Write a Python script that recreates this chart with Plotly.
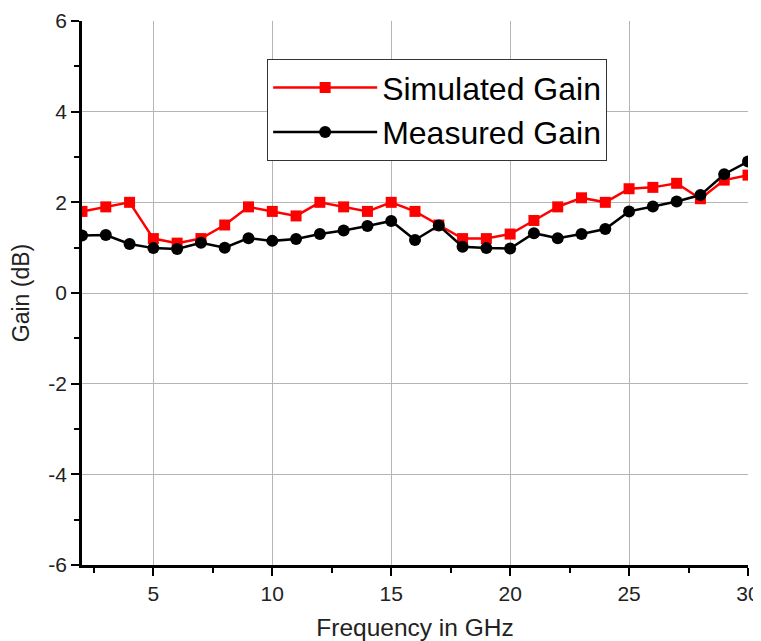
import plotly.graph_objects as go

freq = list(range(2, 31))
simulated = [1.8, 1.9, 2.0, 1.2, 1.1, 1.2, 1.5, 1.9, 1.8, 1.7, 2.0, 1.9, 1.8, 2.0, 1.8,
             1.5, 1.2, 1.2, 1.3, 1.6, 1.9, 2.1, 2.0, 2.3, 2.33, 2.42, 2.08, 2.49, 2.6]
measured = [1.27, 1.28, 1.08, 0.99, 0.97, 1.11, 1.0, 1.21, 1.15, 1.19, 1.3, 1.38, 1.48, 1.59, 1.17,
            1.49, 1.02, 0.99, 0.98, 1.32, 1.21, 1.3, 1.41, 1.8, 1.91, 2.02, 2.16, 2.62, 2.9]

x_ticks = [5, 10, 15, 20, 25, 30]
y_ticks = [-6, -4, -2, 0, 2, 4, 6]
y_tick_labels = ["-6", "-4", "-2", "0", "2", "4", "6"]

font_family = "Liberation Sans, Arial, sans-serif"

fig = go.Figure()
fig.add_trace(go.Scatter(
    x=freq, y=simulated, mode="lines+markers", name="Simulated Gain",
    line=dict(color="#ff0000", width=2.5),
    marker=dict(symbol="square", size=11, color="#ff0000"),
))
fig.add_trace(go.Scatter(
    x=freq, y=measured, mode="lines+markers", name="Measured Gain",
    line=dict(color="#000000", width=2.5),
    marker=dict(symbol="circle", size=12, color="#000000"),
))

fig.update_layout(
    width=753, height=633,
    margin=dict(l=74, r=13, t=13, b=76, autoexpand=False),
    paper_bgcolor="white", plot_bgcolor="white",
    font=dict(family=font_family, color="#111111"),
    showlegend=True,
    legend=dict(
        x=0.278, y=0.93, xanchor="left", yanchor="top",
        bgcolor="white", bordercolor="#333333", borderwidth=1,
        font=dict(size=32, color="#000000", family=font_family),
        itemwidth=104, tracegroupgap=0,
    ),
    xaxis=dict(
        range=[2, 30], tickvals=x_ticks, ticks="outside", ticklen=8, tickwidth=2,
        tickcolor="black", showline=True, linewidth=2.5, linecolor="black",
        showgrid=True, gridcolor="#b5b5b5", gridwidth=1, zeroline=False,
        automargin=False,
        tickfont=dict(size=21, color="#222222"),
        minor=dict(dtick=2.5, tick0=0, ticks="outside", ticklen=5, tickwidth=2,
                   tickcolor="black", showgrid=False),
        title=dict(text="Frequency in GHz", font=dict(size=24.5, color="#222222"), standoff=16),
    ),
    yaxis=dict(
        range=[-6, 6], tickvals=y_ticks, ticktext=y_tick_labels, ticks="outside",
        ticklen=8, tickwidth=2,
        tickcolor="black", showline=True, linewidth=2.5, linecolor="black",
        showgrid=True, gridcolor="#b5b5b5", gridwidth=1, zeroline=False,
        automargin=False,
        tickfont=dict(size=21, color="#222222"),
        minor=dict(dtick=1, tick0=0, ticks="outside", ticklen=5, tickwidth=2,
                   tickcolor="black", showgrid=False),
        title=dict(text="Gain (dB)", font=dict(size=23, color="#222222"), standoff=22),
    ),
    xaxis2=dict(
        overlaying="x", side="top", anchor="y", range=[0, 5], dtick=1, tick0=0,
        ticks="inside", ticklen=8, tickwidth=2, tickcolor="black",
        showline=True, linewidth=2.5, linecolor="black", showgrid=False,
        zeroline=False, showticklabels=False, automargin=False,
        minor=dict(dtick=0.5, tick0=0, ticks="inside", ticklen=4, tickwidth=2,
                   tickcolor="black", showgrid=False),
    ),
    yaxis2=dict(
        overlaying="y", side="right", anchor="x", range=[0, 5], dtick=1, tick0=0,
        ticks="inside", ticklen=8, tickwidth=2, tickcolor="black",
        showline=True, linewidth=2.5, linecolor="black", showgrid=False,
        zeroline=False, showticklabels=False, automargin=False,
        minor=dict(dtick=0.5, tick0=0, ticks="inside", ticklen=4, tickwidth=2,
                   tickcolor="black", showgrid=False),
    ),
)

fig.write_html("out.html")
